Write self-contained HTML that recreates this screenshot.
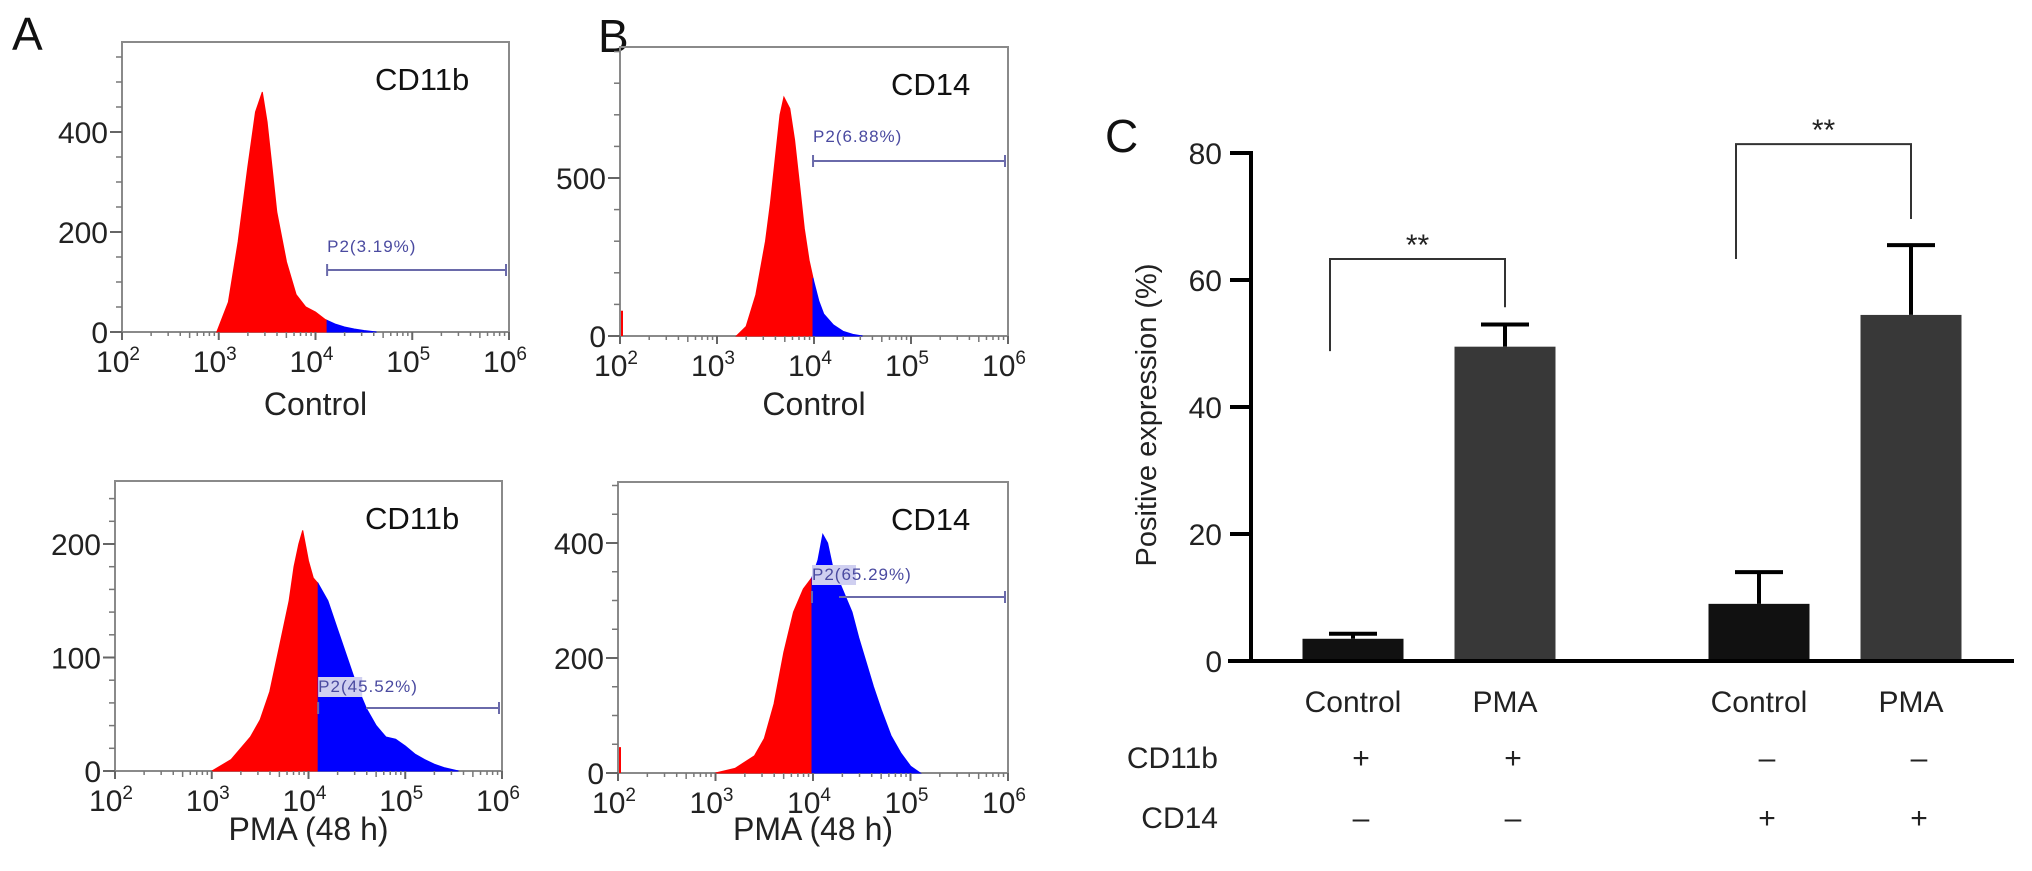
<!DOCTYPE html>
<html><head><meta charset="utf-8"><style>
body{margin:0;background:#fff;}
svg{display:block;font-family:"Liberation Sans",Arial,sans-serif;}
</style></head><body>
<svg id="fig" width="2032" height="871" viewBox="0 0 2032 871" xmlns="http://www.w3.org/2000/svg">
<text x="12" y="50" font-size="46" fill="#111">A</text>
<text x="598" y="52" font-size="46" fill="#111">B</text>
<text x="1105" y="152" font-size="46" fill="#111">C</text>
</svg>
<script>
// ---------- Histogram data (log10 intensity vs count) ----------
const aTopLog = [2.98,3.1,3.2,3.3,3.38,3.45,3.5,3.55,3.6,3.7,3.8,3.9,4.0,4.1,4.2,4.3,4.4,4.5,4.63];
const aTopCount = [0,60,180,330,440,480,420,330,240,140,75,50,40,25,16,10,6,3,0];
const aBotLog = [3.0,3.2,3.4,3.5,3.6,3.7,3.8,3.85,3.9,3.94,4.0,4.05,4.1,4.2,4.3,4.4,4.5,4.6,4.7,4.8,4.9,5.0,5.1,5.2,5.3,5.4,5.55];
const aBotCount = [0,10,30,45,70,110,150,180,200,212,185,170,165,150,125,100,75,55,40,30,28,22,15,10,6,3,0];
const bTopLog = [3.2,3.3,3.4,3.5,3.55,3.6,3.65,3.69,3.75,3.8,3.85,3.9,3.95,4.0,4.05,4.1,4.2,4.3,4.4,4.5];
const bTopCount = [0,30,130,300,420,560,700,756,720,620,480,340,240,170,110,70,35,15,5,0];
const bBotLog = [3.0,3.2,3.4,3.5,3.6,3.7,3.8,3.9,3.99,4.05,4.1,4.15,4.2,4.3,4.4,4.47,4.55,4.62,4.7,4.8,4.9,5.0,5.1];
const bBotCount = [0,8,30,60,120,210,280,320,340,370,415,400,360,320,280,235,190,150,110,65,35,12,0];
const gateStart = [4.12, 4.10, 3.99, 3.99];
const gateLabels = ["P2(3.19%)","P2(45.52%)","P2(6.88%)","P2(65.29%)"];
const yTickA1 = [0,200,400], yTickA2 = [0,100,200], yTickB1 = [0,500], yTickB2 = [0,200,400];

// ---------- Bar chart data ----------
const barCats = ["Control","PMA","Control","PMA"];
const barVals = [3.5,49.5,9,54.5];
const barErr = [0.8,3.5,5,11];
const cd11bSigns = ["+","+","\u2013","\u2013"];
const cd14Signs = ["\u2013","\u2013","+","+"];
const yTicksC = [0,20,40,60,80];

const NS="http://www.w3.org/2000/svg";
const svg=document.getElementById('fig');
function mk(tag,attrs,parent){const e=document.createElementNS(NS,tag);for(const k in attrs)e.setAttribute(k,attrs[k]);(parent||svg).appendChild(e);return e;}

function histPanel(o){
  const g=mk('g',{});
  
  
  const xs=l=>o.left+(l-2)*(o.right-o.left)/4;
  const ys=c=>o.bottom-c*o.pxPer;
  // box
  const box=mk('rect',{x:o.left,y:o.top,width:o.right-o.left,height:o.bottom-o.top,fill:'none',stroke:'#8a8a8a','stroke-width':2},g);
  
  
  // histogram polygons
  const split=o.split;
  let red=[],blue=[];
  for(let i=0;i<o.logs.length;i++){
    const l=o.logs[i],c=o.counts[i];
    if(l<=split)red.push([l,c]);
    if(l>=split)blue.push([l,c]);
    if(i<o.logs.length-1&&l<split&&o.logs[i+1]>split){
      const t=(split-l)/(o.logs[i+1]-l);const cs=c+t*(o.counts[i+1]-c);
      red.push([split,cs]);blue.unshift([split,cs]);
    }
  }
  function poly(pts,col,nm){
    if(pts.length<2)return;
    let d='M'+xs(pts[0][0])+','+o.bottom;
    pts.forEach(p=>{d+=' L'+xs(p[0]).toFixed(1)+','+ys(p[1]).toFixed(1);});
    d+=' L'+xs(pts[pts.length-1][0])+','+o.bottom+' Z';
    const p=mk('path',{d:d,fill:col,stroke:col,'stroke-width':1},g);
    
    
  }
  poly(red,'#ff0000','histogram-negative');
  poly(blue,'#0000ff','histogram-positive');
  if(o.spike){const s=mk('line',{x1:o.left+2,x2:o.left+2,y1:o.bottom,y2:ys(o.spike),stroke:'#ff0000','stroke-width':2},g);
    }
  // x axis ticks
  for(let d=2;d<=6;d++){
    mk('line',{x1:xs(d),x2:xs(d),y1:o.bottom,y2:o.bottom+8,stroke:'#666','stroke-width':2},g);
    if(d<6)for(let m=2;m<=9;m++){const xx=xs(d+Math.log10(m));mk('line',{x1:xx,x2:xx,y1:o.bottom,y2:o.bottom+(m==5?6:4),stroke:'#777','stroke-width':1.5},g);}
    const t=mk('text',{x:xs(d)-4,y:o.bottom+40,'font-size':30,'text-anchor':'middle',fill:'#222'},g);
    
    t.textContent='10';
    const s=mk('tspan',{dy:-12,'font-size':19},t);s.textContent=String(d);
  }
  // y ticks
  for(let c=0;ys(c)>=o.top;c+=o.minor){
    mk('line',{x1:o.left-6,x2:o.left,y1:ys(c),y2:ys(c),stroke:'#777','stroke-width':1.5},g);
  }
  o.yticks.forEach(v=>{
    mk('line',{x1:o.left-12,x2:o.left,y1:ys(v),y2:ys(v),stroke:'#666','stroke-width':2},g);
    const t=mk('text',{x:o.left-14,y:ys(v)+11,'font-size':30,'text-anchor':'end',fill:'#222'},g);
    
    t.textContent=v;
  });
  // marker label
  const m=mk('text',{x:o.mx,y:o.my,'font-size':31,fill:'#111'},g);
  
  m.textContent=o.marker;
  // gate
  const gx=xs(o.gate);
  const gl=mk('line',{x1:o.gateLineStart||gx,x2:o.right-3,y1:o.gy,y2:o.gy,stroke:'#6a6aaa','stroke-width':2},g);
  
  mk('line',{x1:gx,x2:gx,y1:o.gy-6,y2:o.gy+6,stroke:'#6a6aaa','stroke-width':2},g);
  mk('line',{x1:o.right-3,x2:o.right-3,y1:o.gy-6,y2:o.gy+6,stroke:'#6a6aaa','stroke-width':2},g);
  if(o.labelBg)mk('rect',{x:gx,y:o.gly-15,width:44,height:20,fill:'#cfcff0'},g);
  const gt=mk('text',{x:gx,y:o.gly,'font-size':17,fill:'#4a4aa0','letter-spacing':1},g);
  
  gt.textContent=o.gateLabel;
  // x title
  const xt=mk('text',{x:(o.left+o.right)/2,y:o.titleY,'font-size':32,'text-anchor':'middle',fill:'#222'},g);
  
  xt.textContent=o.title;
}
histPanel({name:'histogram-a-control',left:122,right:509,top:42,bottom:332,pxPer:0.5,minor:50,yticks:yTickA1,logs:aTopLog,counts:aTopCount,split:gateStart[0],gate:gateStart[0],gy:270,gly:252,gateLabel:gateLabels[0],marker:'CD11b',mx:375,my:90,title:'Control',titleY:415});
histPanel({name:'histogram-a-pma',left:115,right:502,top:481,bottom:771,pxPer:1.135,minor:20,yticks:yTickA2,logs:aBotLog,counts:aBotCount,split:gateStart[1],gate:gateStart[1],gateLineStart:366,gy:708,gly:692,labelBg:true,gateLabel:gateLabels[1],marker:'CD11b',mx:365,my:529,title:'PMA (48 h)',titleY:840});
histPanel({name:'histogram-b-control',left:620,right:1008,top:47,bottom:336,pxPer:0.316,minor:100,yticks:yTickB1,logs:bTopLog,counts:bTopCount,split:gateStart[2],gate:gateStart[2],gy:161,gly:142,gateLabel:gateLabels[2],marker:'CD14',mx:891,my:95,title:'Control',titleY:415,spike:80});
histPanel({name:'histogram-b-pma',left:618,right:1008,top:482,bottom:773,pxPer:0.575,minor:50,yticks:yTickB2,logs:bBotLog,counts:bBotCount,split:gateStart[3],gate:gateStart[3],gateLineStart:839,gy:597,gly:580,labelBg:true,gateLabel:gateLabels[3],marker:'CD14',mx:891,my:530,title:'PMA (48 h)',titleY:840,spike:45});

// ---------- Panel C ----------
(function(){
  const g=mk('g',{});
  
  
  const y0=661,yTop=153,ax=1251;
  const ys=v=>y0-v*(y0-yTop)/80;
  const centers=[1353,1505,1759,1911];
  const bw=101;
  const cols=['#111111','#383838','#111111','#383838'];
  yTicksC.forEach(v=>{
    mk('line',{x1:1230,x2:ax,y1:ys(v),y2:ys(v),stroke:'#000','stroke-width':4},g);
    const t=mk('text',{x:1222,y:ys(v)+11,'font-size':30,'text-anchor':'end',fill:'#222'},g);
    
    t.textContent=v;
  });
  barVals.forEach((v,i)=>{
    const c=centers[i];
    const r=mk('rect',{x:c-bw/2,y:ys(v),width:bw,height:y0-ys(v),fill:cols[i]},g);
    
    
    const e=mk('path',{d:'M'+c+','+ys(v)+' V'+ys(v+barErr[i])+' M'+(c-24)+','+ys(v+barErr[i])+' H'+(c+24),stroke:'#000','stroke-width':4,fill:'none'},g);
    
    const t=mk('text',{x:c,y:712,'font-size':30,'text-anchor':'middle',fill:'#222'},g);
    
    t.textContent=barCats[i];
    const s1=mk('text',{x:c+8,y:768,'font-size':30,'text-anchor':'middle',fill:'#222'},g);
    
    s1.textContent=cd11bSigns[i];
    const s2=mk('text',{x:c+8,y:828,'font-size':30,'text-anchor':'middle',fill:'#222'},g);
    
    s2.textContent=cd14Signs[i];
  });
  const ya=mk('line',{x1:ax,x2:ax,y1:yTop-2,y2:y0+2,stroke:'#000','stroke-width':4},g);
  
  const xa=mk('line',{x1:1228,x2:2014,y1:y0,y2:y0,stroke:'#000','stroke-width':4},g);
  
  // significance brackets (value levels)
  const br=[[0,1,63.3,48.8,55.7],[2,3,81.4,63.3,69.6]];
  br.forEach(b=>{
    const x1=centers[b[0]]-23,x2=centers[b[1]];
    const p=mk('path',{d:'M'+x1+','+ys(b[3])+' V'+ys(b[2])+' H'+x2+' V'+ys(b[4]),stroke:'#333','stroke-width':2,fill:'none'},g);
    
    const t=mk('text',{x:(x1+x2)/2,y:ys(b[2])-4,'font-size':30,'text-anchor':'middle',fill:'#222'},g);
    
    t.textContent='**';
  });
  const yt=mk('text',{x:0,y:0,'font-size':29,'text-anchor':'middle',fill:'#222',transform:'translate(1156,415) rotate(-90)'},g);
  
  yt.textContent='Positive expression (%)';
  const r1=mk('text',{x:1218,y:768,'font-size':30,'text-anchor':'end',fill:'#222'},g);
  
  r1.textContent='CD11b';
  const r2=mk('text',{x:1218,y:828,'font-size':30,'text-anchor':'end',fill:'#222'},g);
  
  r2.textContent='CD14';
})();
</script>
</body></html>
